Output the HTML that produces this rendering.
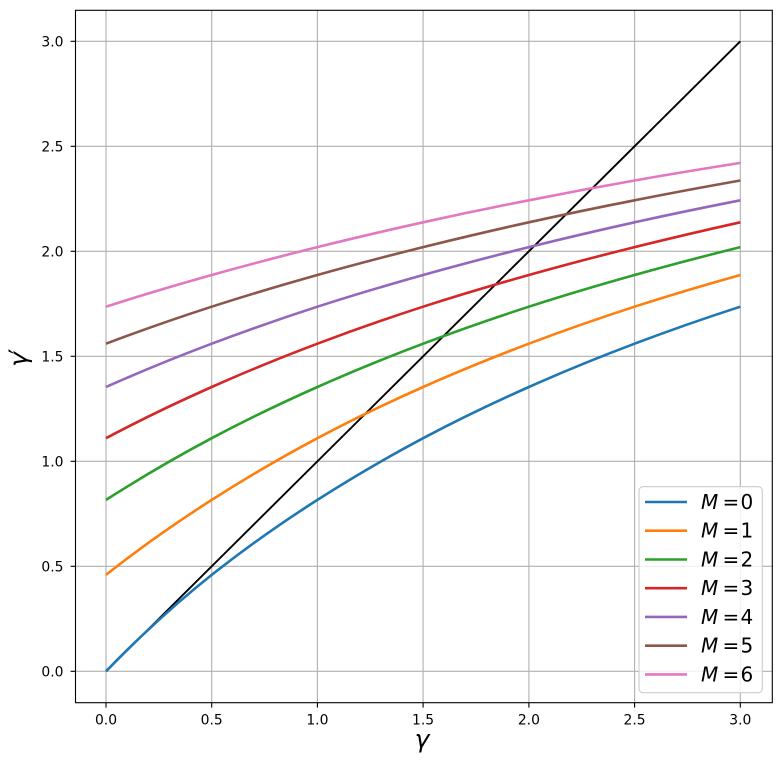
<!DOCTYPE html>
<html>
<head>
<meta charset="utf-8">
<style>
  html, body { margin: 0; padding: 0; background: #ffffff; }
  svg { display: block; }
  text { font-family: "DejaVu Sans", "Liberation Sans", sans-serif; fill: #000; }
</style>
</head>
<body>
<svg width="782" height="765" viewBox="0 0 782 765" xmlns="http://www.w3.org/2000/svg">
  <rect x="0" y="0" width="782" height="765" fill="#ffffff"/>

  <!-- grid -->
  <g stroke="#b0b0b0" stroke-width="1.1" fill="none">
    <line x1="106" y1="10.3" x2="106" y2="702.7"/>
    <line x1="211.7" y1="10.3" x2="211.7" y2="702.7"/>
    <line x1="317.4" y1="10.3" x2="317.4" y2="702.7"/>
    <line x1="423.1" y1="10.3" x2="423.1" y2="702.7"/>
    <line x1="528.9" y1="10.3" x2="528.9" y2="702.7"/>
    <line x1="634.6" y1="10.3" x2="634.6" y2="702.7"/>
    <line x1="740.3" y1="10.3" x2="740.3" y2="702.7"/>
    <line x1="75.5" y1="671.3" x2="772.3" y2="671.3"/>
    <line x1="75.5" y1="566.3" x2="772.3" y2="566.3"/>
    <line x1="75.5" y1="461.3" x2="772.3" y2="461.3"/>
    <line x1="75.5" y1="356.3" x2="772.3" y2="356.3"/>
    <line x1="75.5" y1="251.3" x2="772.3" y2="251.3"/>
    <line x1="75.5" y1="146.3" x2="772.3" y2="146.3"/>
    <line x1="75.5" y1="41.3" x2="772.3" y2="41.3"/>
  </g>

  <!-- identity line -->
  <line x1="106" y1="671.3" x2="740.3" y2="41.3" stroke="#000000" stroke-width="1.9"/>

  <!-- curves -->
  <g fill="none" stroke-width="2.6" stroke-linecap="butt" stroke-linejoin="round">
    <path stroke="#1f77b4" d="M106,671.3 C141.2,634.9 176.5,602.9 211.7,574.9 C247.0,546.9 282.2,522.4 317.4,499.9 C352.7,477.4 387.9,456.9 423.1,438.2 C458.4,419.5 493.6,402.6 528.9,387.0 C564.1,371.3 599.3,357.0 634.6,343.7 C669.8,330.4 705.1,318.1 740.3,306.7"/>
    <path stroke="#ff7f0e" d="M106,574.9 C141.2,546.9 176.5,522.4 211.7,499.9 C247.0,477.4 282.2,456.9 317.4,438.2 C352.7,419.5 387.9,402.6 423.1,387.0 C458.4,371.3 493.6,357.0 528.9,343.7 C564.1,330.4 599.3,318.1 634.6,306.7 C669.8,295.3 705.1,284.9 740.3,275.0"/>
    <path stroke="#2ca02c" d="M106,499.9 C141.2,477.4 176.5,456.9 211.7,438.2 C247.0,419.5 282.2,402.6 317.4,387.0 C352.7,371.3 387.9,357.0 423.1,343.7 C458.4,330.4 493.6,318.1 528.9,306.7 C564.1,295.3 599.3,284.9 634.6,275.0 C669.8,265.1 705.1,255.9 740.3,247.1"/>
    <path stroke="#d62728" d="M106,438.2 C141.2,419.5 176.5,402.6 211.7,387.0 C247.0,371.3 282.2,357.0 317.4,343.7 C352.7,330.4 387.9,318.1 423.1,306.7 C458.4,295.3 493.6,284.9 528.9,275.0 C564.1,265.1 599.3,255.9 634.6,247.1 C669.8,238.4 705.1,230.1 740.3,222.3"/>
    <path stroke="#9467bd" d="M106,387.0 C141.2,371.3 176.5,357.0 211.7,343.7 C247.0,330.4 282.2,318.1 317.4,306.7 C352.7,295.3 387.9,284.9 423.1,275.0 C458.4,265.1 493.6,255.9 528.9,247.1 C564.1,238.4 599.3,230.1 634.6,222.3 C669.8,214.5 705.1,207.2 740.3,200.3"/>
    <path stroke="#8c564b" d="M106,343.7 C141.2,330.4 176.5,318.1 211.7,306.7 C247.0,295.3 282.2,284.9 317.4,275.0 C352.7,265.1 387.9,255.9 423.1,247.1 C458.4,238.4 493.6,230.1 528.9,222.3 C564.1,214.5 599.3,207.2 634.6,200.3 C669.8,193.3 705.1,186.7 740.3,180.5"/>
    <path stroke="#e377c2" d="M106,306.7 C141.2,295.3 176.5,284.9 211.7,275.0 C247.0,265.1 282.2,255.9 317.4,247.1 C352.7,238.4 387.9,230.1 423.1,222.3 C458.4,214.5 493.6,207.2 528.9,200.3 C564.1,193.3 599.3,186.7 634.6,180.5 C669.8,174.3 705.1,168.5 740.3,162.9"/>
  </g>

  <!-- axes spines -->
  <rect x="75.5" y="10.3" width="696.8" height="692.4" fill="none" stroke="#000000" stroke-width="1.1"/>

  <!-- ticks -->
  <g stroke="#000000" stroke-width="1.1">
    <line x1="106" y1="702.7" x2="106" y2="707.6"/>
    <line x1="211.7" y1="702.7" x2="211.7" y2="707.6"/>
    <line x1="317.4" y1="702.7" x2="317.4" y2="707.6"/>
    <line x1="423.1" y1="702.7" x2="423.1" y2="707.6"/>
    <line x1="528.9" y1="702.7" x2="528.9" y2="707.6"/>
    <line x1="634.6" y1="702.7" x2="634.6" y2="707.6"/>
    <line x1="740.3" y1="702.7" x2="740.3" y2="707.6"/>
    <line x1="75.5" y1="671.3" x2="70.6" y2="671.3"/>
    <line x1="75.5" y1="566.3" x2="70.6" y2="566.3"/>
    <line x1="75.5" y1="461.3" x2="70.6" y2="461.3"/>
    <line x1="75.5" y1="356.3" x2="70.6" y2="356.3"/>
    <line x1="75.5" y1="251.3" x2="70.6" y2="251.3"/>
    <line x1="75.5" y1="146.3" x2="70.6" y2="146.3"/>
    <line x1="75.5" y1="41.3" x2="70.6" y2="41.3"/>
  </g>

  <!-- x tick labels -->
  <g font-size="13.9" text-anchor="middle">
    <text x="106" y="724.3">0.0</text>
    <text x="211.7" y="724.3">0.5</text>
    <text x="317.4" y="724.3">1.0</text>
    <text x="423.1" y="724.3">1.5</text>
    <text x="528.9" y="724.3">2.0</text>
    <text x="634.6" y="724.3">2.5</text>
    <text x="740.3" y="724.3">3.0</text>
  </g>

  <!-- y tick labels -->
  <g font-size="13.9" text-anchor="end">
    <text x="63.5" y="676.3">0.0</text>
    <text x="63.5" y="571.3">0.5</text>
    <text x="63.5" y="466.3">1.0</text>
    <text x="63.5" y="361.3">1.5</text>
    <text x="63.5" y="256.3">2.0</text>
    <text x="63.5" y="151.3">2.5</text>
    <text x="63.5" y="46.3">3.0</text>
  </g>

  <!-- axis labels -->
  <text x="422" y="747.3" font-size="25" font-style="italic" text-anchor="middle">γ</text>
  <g transform="translate(27,0) rotate(-90)">
    <text x="-359.5" y="0" font-size="25" font-style="italic" text-anchor="middle">γ</text>
    <text x="-354" y="-1" font-size="24" font-family="DejaVu Sans, sans-serif">′</text>
  </g>

  <!-- legend -->
  <rect x="639" y="486.7" width="123.3" height="206" rx="4" ry="4" fill="#ffffff" fill-opacity="0.8" stroke="#cccccc" stroke-width="1.1"/>
  <g stroke-width="2.6">
    <line x1="645" y1="502" x2="687" y2="502" stroke="#1f77b4"/>
    <line x1="645" y1="530.7" x2="687" y2="530.7" stroke="#ff7f0e"/>
    <line x1="645" y1="559.5" x2="687" y2="559.5" stroke="#2ca02c"/>
    <line x1="645" y1="588.2" x2="687" y2="588.2" stroke="#d62728"/>
    <line x1="645" y1="616.9" x2="687" y2="616.9" stroke="#9467bd"/>
    <line x1="645" y1="645.7" x2="687" y2="645.7" stroke="#8c564b"/>
    <line x1="645" y1="674.4" x2="687" y2="674.4" stroke="#e377c2"/>
  </g>
  <g font-size="20">
    <text x="701" y="508.9" font-style="italic">M</text>
    <text x="722.5" y="508.9">=</text>
    <text x="740.5" y="508.9">0</text>

    <text x="701" y="537.6" font-style="italic">M</text>
    <text x="722.5" y="537.6">=</text>
    <text x="740.5" y="537.6">1</text>

    <text x="701" y="566.4" font-style="italic">M</text>
    <text x="722.5" y="566.4">=</text>
    <text x="740.5" y="566.4">2</text>

    <text x="701" y="595.1" font-style="italic">M</text>
    <text x="722.5" y="595.1">=</text>
    <text x="740.5" y="595.1">3</text>

    <text x="701" y="623.8" font-style="italic">M</text>
    <text x="722.5" y="623.8">=</text>
    <text x="740.5" y="623.8">4</text>

    <text x="701" y="652.6" font-style="italic">M</text>
    <text x="722.5" y="652.6">=</text>
    <text x="740.5" y="652.6">5</text>

    <text x="701" y="681.3" font-style="italic">M</text>
    <text x="722.5" y="681.3">=</text>
    <text x="740.5" y="681.3">6</text>
  </g>
</svg>
</body>
</html>
